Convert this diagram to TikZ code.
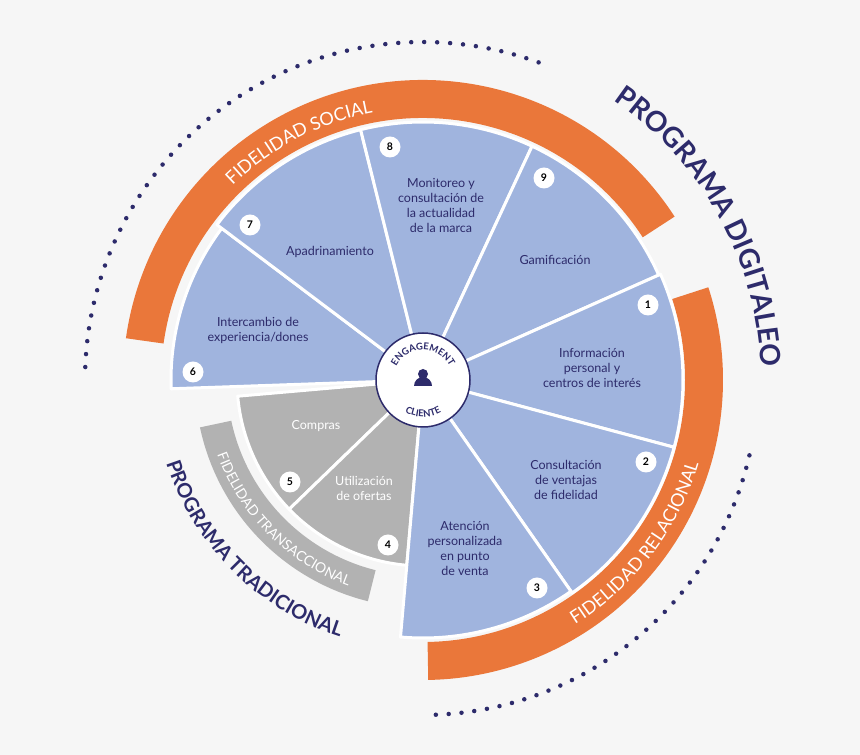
\documentclass[tikz,border=0pt]{standalone}
\usepackage{fontspec}
\setmainfont{Lato}
\usetikzlibrary{decorations.text}
\definecolor{sectorblue}{HTML}{A0B4DE}
\definecolor{sectorgray}{HTML}{B2B2B2}
\definecolor{bandorange}{HTML}{EA773A}
\definecolor{navy}{HTML}{2D2B6B}
\definecolor{paper}{HTML}{F6F6F6}
\tikzset{
  sector/.style={draw=white,line width=3pt,line join=round},
  label/.style={align=center,text=navy,font=\fontsize{12.5}{15}\selectfont},
  num/.style={shape=circle,fill=white,inner sep=0pt,minimum size=21pt,
    font=\fontsize{10.5}{10.5}\bfseries\selectfont},
  dot/.style={shape=circle,fill=navy,inner sep=0pt,minimum size=4.5pt}
}
\newcommand{\wedgeat}[4]{% color, from, to, radius
  \fill[#1] (0,0) -- (#2:#4) arc[start angle=#2,end angle=#3,radius=#4] -- cycle;
  \draw[sector] (0,0) -- (#2:#4) arc[start angle=#2,end angle=#3,radius=#4] -- cycle;}
\newcommand{\bandat}[5]{% color, from, to, inner, outer
  \fill[#1] (#2:#5) arc[start angle=#2,end angle=#3,radius=#5]
    -- (#3:#4) arc[start angle=#3,end angle=#2,radius=#4] -- cycle;}
\begin{document}
\begin{tikzpicture}[x=1pt,y=1pt]
\fill[paper] (0,0) rectangle (860,755);
\useasboundingbox (0,0) rectangle (860,755);

\begin{scope}[shift={(423,375)}]
% outer bands
\bandat{bandorange}{33}{172}{262}{300}
\bandat{bandorange}{-89}{18}{262}{300}
\bandat{sectorgray}{192}{256}{196}{228}

% dots
\foreach \a in {70,72.2,...,178} { \node[dot] at (\a:338) {}; }
\foreach \a in {-13,-15.2,...,-88} { \node[dot] at (\a:335) {}; }

% sectors
\wedgeat{sectorgray}{185}{224}{186}
\wedgeat{sectorgray}{224}{265}{186}
\wedgeat{sectorblue}{143}{182}{252}
\wedgeat{sectorblue}{104}{143}{258}
\wedgeat{sectorblue}{65}{104}{258}
\wedgeat{sectorblue}{24}{65}{258}
\wedgeat{sectorblue}{-15}{24}{260}
\wedgeat{sectorblue}{-55}{-15}{260}
\wedgeat{sectorblue}{-95}{-55}{258}

% arc texts
\path[decorate,decoration={text along path,text align=center,
  text={|\color{white}\fontsize{18}{18}\selectfont|FIDELIDAD SOCIAL}}]
  (150:272) arc[start angle=150,end angle=85,radius=272];
\path[decorate,decoration={text along path,text align=center,
  text={|\color{white}\fontsize{18}{18}\selectfont|FIDELIDAD RELACIONAL}}]
  (-80:288) arc[start angle=-80,end angle=5,radius=288];
\path[decorate,decoration={text along path,text align=center,
  text={|\color{white}\fontsize{14}{14}\selectfont|FIDELIDAD TRANSACCIONAL}}]
  (188:219) arc[start angle=188,end angle=262,radius=219];
\path[decorate,decoration={text along path,text align=center,
  text={|\color{navy}\bfseries\fontsize{28}{28}\selectfont|PROGRAMA DIGITALEO}}]
  (72:338) arc[start angle=72,end angle=-14,radius=338];
\path[decorate,decoration={text along path,text align=center,
  text={|\color{navy}\bfseries\fontsize{20}{20}\selectfont|PROGRAMA TRADICIONAL}}]
  (186:270) arc[start angle=186,end angle=264,radius=270];

% center
\node[shape=circle,fill=white,draw=navy,line width=1.5pt,minimum size=94pt] (core) at (0,0) {};
\path[decorate,decoration={text along path,text align=center,
  text={|\color{navy}\bfseries\fontsize{9.5}{9.5}\selectfont|ENGAGEMENT}}]
  (160:30) arc[start angle=160,end angle=20,radius=30];
\path[decorate,decoration={text along path,text align=center,
  text={|\color{navy}\bfseries\fontsize{9.5}{9.5}\selectfont|CLIENTE}}]
  (215:37) arc[start angle=215,end angle=325,radius=37];
\fill[navy] (0,6) circle (5);
\fill[navy] (-9,-6) arc[start angle=180,end angle=0,radius=9] -- cycle;
\end{scope}

% sector labels
\node[label] (t1) at (592,387) {Información\\personal y\\centros de interés};
\node[label] (t2) at (566,275) {Consultación\\de ventajas\\de fidelidad};
\node[label] (t3) at (465,207) {Atención\\personalizada\\en punto\\de venta};
\node[label,text=white] (t4) at (364,267) {Utilización\\de ofertas};
\node[label,text=white] (t5) at (316,329) {Compras};
\node[label] (t6) at (258,425) {Intercambio de\\experiencia/dones};
\node[label] (t7) at (330,503) {Apadrinamiento};
\node[label] (t8) at (441,550) {Monitoreo y\\consultación de\\la actualidad\\de la marca};
\node[label] (t9) at (555,495) {Gamificación};

% numbers
\node[num] (n1) at (648,450) {1};
\node[num] (n2) at (646,293) {2};
\node[num] (n3) at (537,167) {3};
\node[num] (n4) at (388,210) {4};
\node[num] (n5) at (290,273) {5};
\node[num] (n6) at (193,383) {6};
\node[num] (n7) at (250,530) {7};
\node[num] (n8) at (390,608) {8};
\node[num] (n9) at (544,577) {9};
\end{tikzpicture}
\end{document}
